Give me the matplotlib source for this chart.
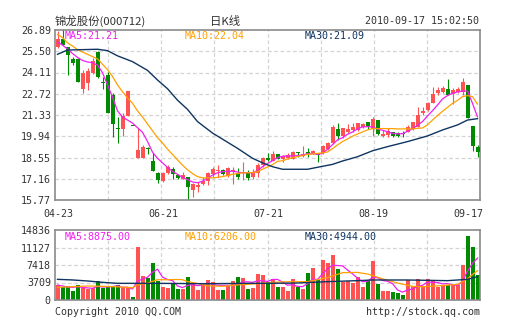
import numpy as np
import matplotlib
matplotlib.use("Agg")
import matplotlib.pyplot as plt
from matplotlib import transforms

# ---- daily K-line data, 2010-04-23 .. 2010-09-17 -------------------------
opens = [25.76, 26.28, 25.76, 25.02, 24.97, 23.05, 23.40, 24.06, 25.47, 23.49,
         23.95, 22.64, 20.46, 20.44, 21.26, 20.62, 18.54, 18.54, 19.13, 18.32,
         17.56, 17.04, 17.52, 17.80, 17.43, 17.17, 17.28, 16.42, 16.64, 16.82,
         17.04, 17.47, 17.68, 17.75, 17.34, 17.64, 17.56, 17.54, 17.52, 17.25,
         17.56, 18.06, 18.54, 18.34, 18.78, 18.45, 18.50, 18.45, 18.88, 18.65,
         18.93, 18.78, 18.82, 18.82, 19.09, 19.48, 20.42, 19.96, 20.24, 20.35,
         20.35, 20.52, 20.85, 20.39, 21.00, 19.96, 20.02, 20.24, 20.15, 20.11,
         20.24, 20.39, 20.57, 21.44, 21.66, 22.14, 22.79, 22.86, 23.01, 22.70,
         22.84, 22.86, 23.29, 20.61, 19.22]
highs = [26.85, 26.95, 25.80, 25.15, 25.04, 24.27, 24.38, 25.04, 25.54, 23.84,
         24.16, 22.75, 21.22, 21.44, 22.92, 20.62, 20.46, 19.37, 19.26, 18.82,
         17.58, 17.62, 18.06, 17.91, 17.47, 17.62, 17.30, 16.86, 16.97, 17.30,
         17.62, 17.95, 18.06, 17.80, 17.90, 17.95, 17.84, 18.28, 17.70, 17.77,
         18.17, 18.60, 18.82, 18.99, 18.80, 18.71, 18.86, 18.99, 18.93, 19.30,
         19.15, 19.05, 18.85, 19.37, 19.59, 20.68, 20.79, 20.50, 20.72, 20.79,
         20.83, 20.83, 20.85, 21.18, 21.00, 20.35, 20.46, 20.24, 20.24, 20.31,
         20.68, 20.90, 21.87, 21.83, 22.20, 23.18, 23.18, 23.24, 23.68, 23.07,
         23.18, 23.73, 23.29, 20.61, 19.37]
lows = [25.70, 25.88, 23.95, 24.58, 23.50, 22.79, 22.97, 24.03, 23.77, 23.01,
        21.44, 19.91, 19.48, 19.96, 21.24, 20.60, 18.52, 18.52, 18.80, 17.69,
        16.86, 16.97, 17.50, 17.12, 17.17, 17.15, 15.77, 15.99, 16.32, 16.76,
        16.75, 17.30, 17.30, 17.40, 17.30, 16.80, 17.12, 17.08, 17.08, 17.12,
        17.30, 17.95, 18.34, 18.34, 18.45, 18.28, 18.43, 18.45, 18.60, 18.60,
        18.60, 18.76, 18.28, 18.78, 19.04, 19.44, 19.70, 19.80, 20.13, 20.24,
        20.31, 20.46, 20.39, 19.96, 20.02, 19.91, 19.87, 19.91, 19.91, 19.91,
        20.24, 20.35, 20.52, 21.33, 21.61, 22.09, 22.64, 22.79, 22.64, 22.05,
        22.75, 22.64, 21.16, 18.99, 18.56]
closes = [26.28, 25.93, 25.28, 24.71, 23.51, 24.06, 24.23, 24.86, 23.84, 23.45,
          21.48, 20.74, 20.42, 21.26, 22.90, 20.60, 19.04, 19.26, 19.08, 17.69,
          17.08, 17.52, 17.91, 17.47, 17.23, 17.43, 16.64, 16.82, 16.77, 17.04,
          17.56, 17.78, 17.74, 17.45, 17.88, 17.68, 17.25, 17.60, 17.23, 17.62,
          18.06, 18.50, 18.39, 18.78, 18.45, 18.65, 18.71, 18.93, 18.84, 18.78,
          18.78, 18.99, 18.71, 19.30, 19.52, 20.57, 19.96, 20.50, 20.42, 20.52,
          20.79, 20.72, 20.57, 21.05, 20.07, 20.09, 20.31, 19.96, 19.96, 20.08,
          20.57, 20.90, 21.33, 21.61, 22.14, 22.70, 22.97, 23.07, 22.64, 22.97,
          23.05, 23.51, 21.16, 19.30, 18.93]
volumes = [3180, 2830, 2970, 1980, 3110, 2470, 2330, 2470, 4030, 2470,
           2680, 2680, 3110, 2470, 2680, 710, 11160, 5000, 4600, 7900,
           4000, 2680, 2610, 3300, 2330, 2260, 4950, 3530, 2120, 3180,
           4240, 3890, 2120, 2120, 3180, 4100, 4950, 4730, 2330, 2610,
           5510, 5300, 3890, 4450, 2680, 2680, 1980, 4450, 2680, 2330,
           5790, 6710, 4240, 8480, 7770, 9540, 6500, 3890, 4100, 3670,
           4950, 2830, 4240, 8270, 3390, 1980, 1980, 1770, 1550, 1060,
           4240, 2970, 4380, 2970, 4380, 4100, 2680, 2970, 3180, 3180,
           3250, 7400, 13600, 11300, 5400]

# moving averages of price
ma5 = [26.10, 25.90, 25.65, 25.35, 25.10, 24.90, 24.80, 24.75, 24.60, 24.10,
       23.30, 22.50, 21.60, 21.20, 21.00, 20.80, 20.50, 20.20, 19.60, 18.90,
       18.50, 18.20, 17.90, 17.65, 17.45, 17.25, 17.10, 16.95, 16.90, 17.00,
       17.20, 17.40, 17.55, 17.62, 17.65, 17.65, 17.60, 17.55, 17.55, 17.55,
       17.70, 17.95, 18.15, 18.35, 18.54, 18.63, 18.65, 18.65, 18.67, 18.71,
       18.80, 18.80, 18.76, 18.82, 19.09, 19.39, 19.70, 19.85, 20.07, 20.22,
       20.42, 20.55, 20.57, 20.55, 20.42, 20.33, 20.24, 20.13, 20.09, 20.11,
       20.26, 20.42, 20.66, 20.90, 21.27, 21.61, 21.98, 22.38, 22.60, 22.75,
       22.84, 22.90, 22.90, 22.09, 21.21]
ma10 = [26.60, 26.40, 26.05, 25.85, 25.60, 25.45, 25.30, 25.15, 25.00, 24.65,
        24.30, 23.85, 23.30, 22.85, 22.45, 22.10, 21.60, 21.20, 20.75, 20.30,
        19.85, 19.50, 19.10, 18.75, 18.40, 18.05, 17.75, 17.50, 17.30, 17.22,
        17.22, 17.22, 17.25, 17.30, 17.37, 17.45, 17.50, 17.55, 17.55, 17.57,
        17.62, 17.78, 17.93, 18.08, 18.30, 18.34, 18.45, 18.54, 18.61, 18.67,
        18.76, 18.78, 18.82, 18.85, 18.91, 19.13, 19.37, 19.59, 19.76, 19.94,
        20.09, 20.22, 20.35, 20.44, 20.44, 20.44, 20.44, 20.44, 20.42, 20.42,
        20.42, 20.42, 20.46, 20.48, 20.68, 21.00, 21.29, 21.57, 21.83, 22.09,
        22.29, 22.53, 22.60, 22.53, 22.04]
ma30_days = [0, 2, 8, 10, 12, 15, 18, 20, 22, 24, 26, 28, 31, 34, 36, 39,
             41, 43, 45, 50, 52, 55, 57, 60, 63, 66, 70, 74, 77, 80, 82, 84]
ma30 = [25.30, 25.58, 25.63, 25.54, 25.20, 24.82, 24.25, 23.62, 23.05, 22.30,
        21.70, 20.90, 20.15, 19.55, 19.15, 18.50, 18.20, 17.95, 17.78, 17.78,
        17.91, 18.10, 18.32, 18.60, 18.99, 19.26, 19.59, 19.96, 20.35, 20.68,
        21.00, 21.09]

# moving averages of volume
vol_ma5 = [3180, 2970, 2750, 2680, 2814, 2672, 2572, 2472, 2882, 2754,
           2796, 2866, 2994, 2682, 2724, 2330, 4026, 4404, 4830, 5874,
           6532, 4836, 4358, 4098, 2984, 2636, 3090, 3274, 3038, 3208,
           3604, 3392, 3110, 3110, 3110, 3082, 3294, 3816, 3858, 3744,
           4026, 4096, 3928, 4352, 4366, 3800, 3136, 3248, 2894, 2824,
           3446, 4392, 4350, 5510, 6598, 7348, 7306, 7236, 6360, 5540,
           4622, 3888, 3958, 4792, 4736, 4142, 3972, 3478, 2134, 1668,
           2120, 2318, 2840, 3124, 3788, 3760, 3702, 3420, 3462, 3222,
           3052, 3996, 6122, 7746, 8875]
vol_ma10_days = [0, 3, 6, 9, 12, 15, 16, 18, 20, 22, 24, 25, 26, 28, 30, 33, 36,
                 40, 45, 50, 52, 54, 57, 60, 62, 65, 68, 71, 73, 76, 80, 82, 83, 84]
vol_ma10 = [2680, 2830, 2970, 2900, 2800, 2600, 3200, 3600, 4300, 4300, 4350,
            4300, 3900, 3500, 3000, 2900, 3200, 3450, 3850, 3900, 4300, 4750,
            5790, 5850, 5500, 4500, 3600, 2900, 2800, 3000, 3300, 4500, 5400, 6206]
vol_ma30_days = [0, 3, 6, 9, 12, 20, 30, 38, 42, 48, 54, 60, 63, 70, 78, 82, 84]
vol_ma30 = [4380, 4250, 4030, 3740, 3530, 3530, 3450, 3530, 3530, 3600, 3890,
            4100, 4240, 4240, 4100, 4380, 4944]

date_ticks = [0, 21, 42, 63, 84]
date_labels = ["04-23", "06-21", "07-21", "08-19", "09-17"]
price_ticks = [15.77, 17.16, 18.55, 19.94, 21.33, 22.72, 24.11, 25.50, 26.89]
vol_ticks = [0, 3709, 7418, 11127, 14836]

RED = "#ff5252"
GREEN = "#008a00"
C_MA5 = "#f020f0"
C_MA10 = "#ffa000"
C_MA30 = "#0f3560"
GRID = "#d4d4d4"
EDGE = "#8a8a8a"
TXT = "#333333"
MONO = "DejaVu Sans Mono"
CJK = ["Noto Sans CJK SC", "DejaVu Sans"]

n = len(closes)
x = np.arange(n)
o = np.array(opens)
c = np.array(closes)
up = c >= o
colors = np.where(up, RED, GREEN)

fig = plt.figure(figsize=(5.05, 3.30), dpi=100)
fig.patch.set_facecolor("white")
ax = fig.add_axes([55 / 505, 130 / 330, 425 / 505, 170 / 330])
axv = fig.add_axes([55 / 505, 30 / 330, 425 / 505, 70 / 330])

vgrid = [-0.5 + k * n / 8 for k in range(1, 8)]


def style_axes(a, yticks, fmt):
    a.set_xlim(-0.5, n - 0.5)
    a.set_ylim(yticks[0], yticks[-1])
    a.set_yticks(yticks)
    a.set_yticklabels([fmt(v) for v in yticks], fontfamily=MONO,
                      fontsize=7.2, color=TXT)
    a.set_xticks([])
    a.tick_params(axis="y", length=0, pad=3)
    for s in a.spines.values():
        s.set_color(EDGE)
        s.set_linewidth(1.2)
    for v in yticks[1:-1]:
        a.axhline(v, color=GRID, lw=0.9, ls=(0, (3, 2)), zorder=0)
    for v in vgrid:
        a.axvline(v, color=GRID, lw=0.9, ls=(0, (3, 2)), zorder=0)


style_axes(ax, price_ticks, lambda v: f"{v:.2f}")
style_axes(axv, vol_ticks, lambda v: f"{v:d}")

# candles
ax.vlines(x, lows, highs, colors=colors, lw=0.8, zorder=2)
body_lo = np.minimum(o, c)
body_h = np.maximum(np.abs(c - o), 0.07)
ax.bar(x, body_h, bottom=body_lo, width=0.8, color=colors, lw=0, zorder=3)

ax.plot(x, ma5, color=C_MA5, lw=0.9, zorder=4)
ax.plot(x, ma10, color=C_MA10, lw=0.9, zorder=4)
ax.plot(ma30_days, ma30, color=C_MA30, lw=1.0, zorder=4)

# volume
axv.bar(x, volumes, width=0.8, color=colors, lw=0, zorder=2)
axv.plot(x, vol_ma5, color=C_MA5, lw=0.9, zorder=4)
axv.plot(vol_ma10_days, vol_ma10, color=C_MA10, lw=0.9, zorder=4)
axv.plot(vol_ma30_days, vol_ma30, color=C_MA30, lw=1.0, zorder=4)

# MA captions
for a, y, vals in [(ax, 0.962, ["MA5:21.21", "MA10:22.04", "MA30:21.09"]),
                   (axv, 0.905, ["MA5:8875.00", "MA10:6206.00", "MA30:4944.00"])]:
    for xf, txt, col in zip([0.0235, 0.306, 0.588], vals, [C_MA5, C_MA10, C_MA30]):
        a.text(xf, y, txt, transform=a.transAxes, ha="left", va="center",
               fontfamily=MONO, fontsize=7.2, color=col, zorder=6)

# date labels under the price panel
trans = transforms.blended_transform_factory(ax.transData, ax.transAxes)
for i, (d, lab) in enumerate(zip(date_ticks, date_labels)):
    ha = "right" if i == len(date_ticks) - 1 else "center"
    xpos = d + 1.2 if ha == "right" else d + 0.2
    ax.text(xpos, -0.082, lab, transform=trans, ha=ha, va="center",
            fontfamily=MONO, fontsize=7.2, color=TXT)

# header and footer
fig.text(55 / 505, 1 - 21 / 330, "锦龙股份(000712)", ha="left", va="center",
         family=CJK, fontsize=8.2, color=TXT)
fig.text(225 / 505, 1 - 21 / 330, "日K线", ha="center", va="center",
         family=CJK, fontsize=8.2, color=TXT)
fig.text(479 / 505, 1 - 21 / 330, "2010-09-17 15:02:50", ha="right", va="center",
         fontfamily=MONO, fontsize=7.2, color=TXT)
fig.text(55 / 505, 1 - 312 / 330, "Copyright 2010 QQ.COM", ha="left", va="center",
         fontfamily=MONO, fontsize=7.2, color=TXT)
fig.text(480 / 505, 1 - 312 / 330, "http://stock.qq.com", ha="right", va="center",
         fontfamily=MONO, fontsize=7.2, color=TXT)

fig.savefig("out.png", dpi=100, facecolor="white")
